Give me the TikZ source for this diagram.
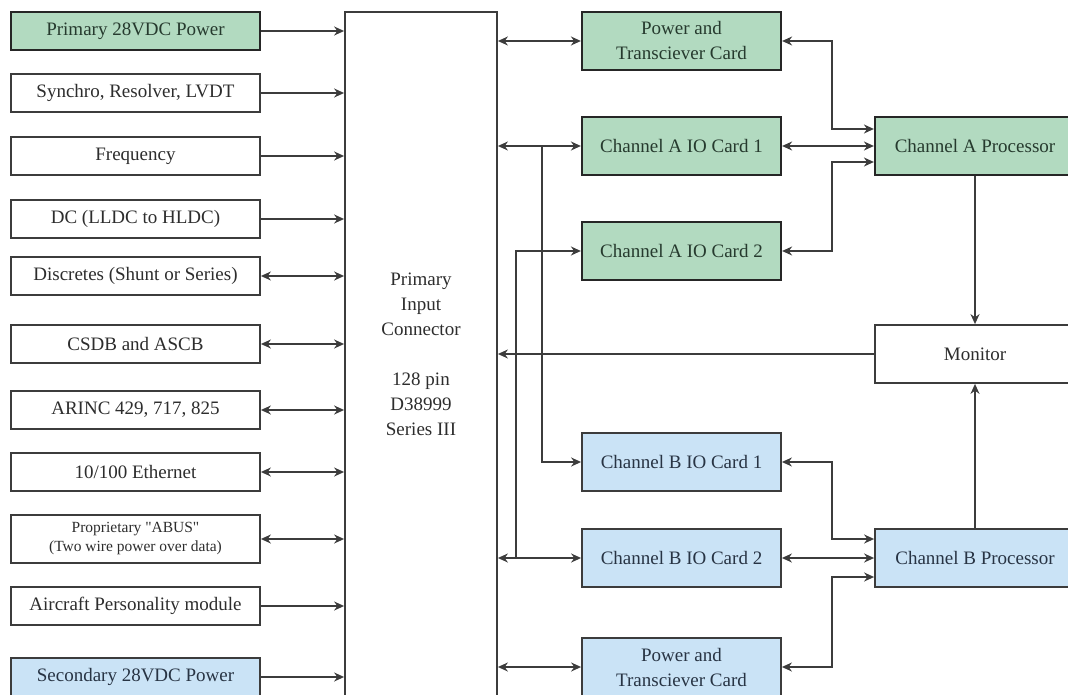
\documentclass[tikz,border=0pt]{standalone}
\usepackage{fontspec}
\setmainfont{Liberation Serif}
\usepackage{tikz}
\usetikzlibrary{shapes.geometric, arrows.meta}

\definecolor{cardGreen}{RGB}{178,218,192}
\definecolor{cardBlue}{RGB}{202,227,246}
\definecolor{lineGray}{RGB}{60,60,60}
\definecolor{textGray}{RGB}{45,45,45}
\definecolor{textGreen}{RGB}{38,58,46}
\definecolor{textBlue}{RGB}{40,52,68}

\begin{document}
\begin{tikzpicture}[x=1pt, y=-1pt, node distance=63pt]
	\tikzstyle{inbox} = [rectangle, minimum width=249pt, minimum height=38pt, 
	inner sep=0pt, text centered, draw=lineGray, line width=1.8pt, fill=white, 
	font=\fontsize{19}{23}\selectfont, text=textGray]
	\tikzstyle{greenInbox} = [inbox, draw=black!85, line width=2.2pt, 
	fill=cardGreen, text=textGreen]
	\tikzstyle{blueInbox} = [inbox, fill=cardBlue, text=textBlue]
	\tikzstyle{card} = [rectangle, minimum width=199pt, minimum height=58pt, 
	inner sep=0pt, align=center, draw=lineGray, line width=1.8pt, fill=white, 
	font=\fontsize{19}{25}\selectfont, text=textGray]
	\tikzstyle{cardA} = [card, draw=black!85, line width=2.2pt, fill=cardGreen, 
	text=textGreen]
	\tikzstyle{cardB} = [card, fill=cardBlue, text=textBlue]
	\tikzstyle{arrow} = [line width=2pt, draw=lineGray, 
	-{Stealth[length=10pt,width=9pt]}]
	\tikzstyle{biarrow} = [arrow, 
	{Stealth[length=10pt,width=9pt]}-{Stealth[length=10pt,width=9pt]}]
	\useasboundingbox (0,0) rectangle (1068,695);
	\node (primaryPower) [greenInbox] at (135.5,31) {Primary 28VDC Power};
	\node (synchro) [inbox, node distance=62pt, below of=primaryPower] 
	{Synchro, Resolver, LVDT};
	\node (frequency) [inbox, below of=synchro] {Frequency};
	\node (dcLevel) [inbox, below of=frequency] {DC (LLDC to HLDC)};
	\node (discretes) [inbox, node distance=57pt, below of=dcLevel] 
	{Discretes (Shunt or Series)};
	\node (csdb) [inbox, node distance=68pt, below of=discretes] {CSDB and ASCB};
	\node (arinc) [inbox, node distance=66pt, below of=csdb] {ARINC 429, 717, 825};
	\node (ethernet) [inbox, node distance=62pt, below of=arinc] {10/100 Ethernet};
	\node (abus) [inbox, node distance=67pt, below of=ethernet, minimum height=48pt, 
	align=center, font=\fontsize{15.5}{19}\selectfont] 
	{Proprietary \textquotedbl ABUS\textquotedbl\\(Two wire power over data)};
	\node (personality) [inbox, node distance=67pt, below of=abus] 
	{Aircraft Personality module};
	\node (secondaryPower) [blueInbox, node distance=71pt, below of=personality] 
	{Secondary 28VDC Power};
	\node (connector) [rectangle, draw=lineGray, line width=1.8pt, 
	minimum width=152pt, minimum height=700pt] at (421,362) {};
	\node (connectorText) [align=center, text=textGray, 
	font=\fontsize{19}{25}\selectfont] at (421,354) 
	{Primary\\Input\\Connector\\[25pt]128 pin\\D38999\\Series III};
	\node (powerA) [cardA] at (681.5,41) {Power and\\Transciever Card};
	\node (ioA1) [cardA, node distance=105pt, below of=powerA] {Channel A IO Card 1};
	\node (ioA2) [cardA, node distance=105pt, below of=ioA1] {Channel A IO Card 2};
	\node (ioB1) [cardB, node distance=211pt, below of=ioA2] {Channel B IO Card 1};
	\node (ioB2) [cardB, node distance=96pt, below of=ioB1] {Channel B IO Card 2};
	\node (powerB) [cardB, node distance=109pt, below of=ioB2] 
	{Power and\\Transciever Card};
	\node (procA) [cardA, minimum width=200pt, node distance=293.5pt, 
	right of=ioA1] {Channel A Processor};
	\node (monitor) [card, minimum width=200pt, node distance=208pt, 
	below of=procA] {Monitor};
	\node (procB) [cardB, minimum width=200pt, node distance=204pt, 
	below of=monitor] {Channel B Processor};
	% inputs into the connector
	\draw [arrow] (primaryPower.east) -- (primaryPower.east -| connector.west);
	\draw [arrow] (synchro.east) -- (synchro.east -| connector.west);
	\draw [arrow] (frequency.east) -- (frequency.east -| connector.west);
	\draw [arrow] (dcLevel.east) -- (dcLevel.east -| connector.west);
	\draw [biarrow] (discretes.east) -- (discretes.east -| connector.west);
	\draw [biarrow] (csdb.east) -- (csdb.east -| connector.west);
	\draw [biarrow] (arinc.east) -- (arinc.east -| connector.west);
	\draw [biarrow] (ethernet.east) -- (ethernet.east -| connector.west);
	\draw [biarrow] (abus.east) -- (abus.east -| connector.west);
	\draw [arrow] (personality.east) -- (personality.east -| connector.west);
	\draw [arrow] (secondaryPower.east) -- (secondaryPower.east -| connector.west);
	% connector to the cards
	\draw [biarrow] (connector.east |- powerA.west) -- (powerA.west);
	\draw [biarrow] (connector.east |- ioA1.west) -- (ioA1.west);
	\coordinate (splitA) at ([xshift=44pt]connector.east |- ioA1.west);
	\draw [arrow] (splitA) |- (ioB1.west);
	\draw [biarrow] (connector.east |- ioB2.west) -- (ioB2.west);
	\coordinate (splitB) at ([xshift=18pt]connector.east |- ioB2.west);
	\draw [arrow] (splitB) |- (ioA2.west);
	\draw [biarrow] (connector.east |- powerB.west) -- (powerB.west);
	\draw [arrow] (monitor.west) -- (monitor.west -| connector.east);
	% cards to the processors
	\coordinate (jogA) at ([xshift=-42pt]procA.west);
	\draw [biarrow] (powerA.east) -| ([yshift=17pt]jogA) -- ([yshift=17pt]procA.west);
	\draw [biarrow] (ioA1.east) -- (procA.west);
	\draw [biarrow] (ioA2.east) -| ([yshift=-16pt]jogA) -- ([yshift=-16pt]procA.west);
	\coordinate (jogB) at ([xshift=-42pt]procB.west);
	\draw [biarrow] (ioB1.east) -| ([yshift=19pt]jogB) -- ([yshift=19pt]procB.west);
	\draw [biarrow] (ioB2.east) -- (procB.west);
	\draw [biarrow] (powerB.east) -| ([yshift=-19pt]jogB) -- ([yshift=-19pt]procB.west);
	\draw [arrow] (procA.south) -- (monitor.north);
	\draw [arrow] (procB.north) -- (monitor.south);
\end{tikzpicture}
\end{document}
